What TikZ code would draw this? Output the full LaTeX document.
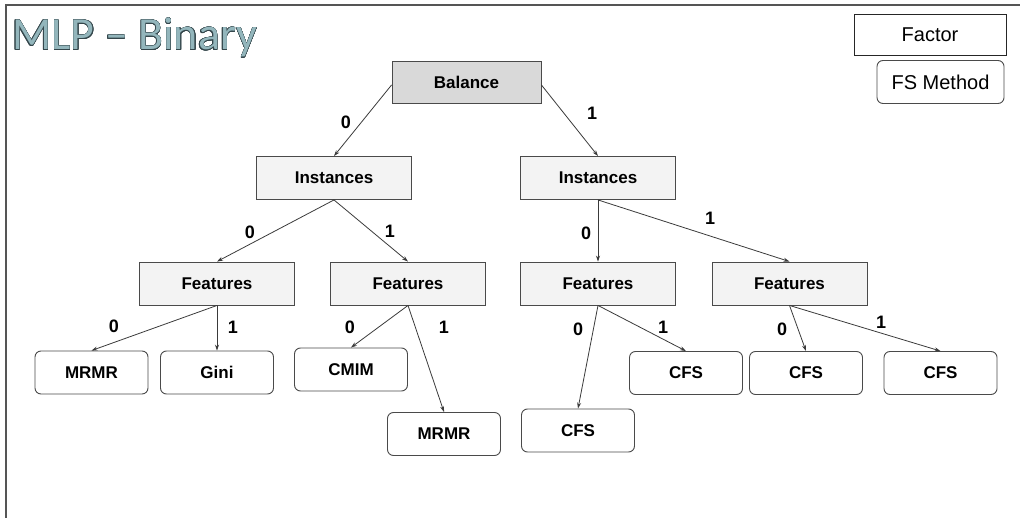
\documentclass[tikz,border=0pt]{standalone}
\usepackage{fontspec}
\setmainfont{Liberation Sans}
\newfontfamily\titlefont{Carlito}
\usepackage{contour}
\contourlength{0.35pt}
\usetikzlibrary{arrows.meta}

\definecolor{edgegray}{HTML}{3A3A3A}
\definecolor{boxline}{HTML}{4A4A4A}
\definecolor{factorfill}{HTML}{F3F3F3}
\definecolor{rootfill}{HTML}{D9D9D9}
\definecolor{titlefill}{HTML}{93B6BC}
\definecolor{titleline}{HTML}{34464B}
\definecolor{framegray}{HTML}{555555}

\tikzset{
  factorbox/.style={draw=boxline, line width=0.9pt, fill=factorfill, inner sep=0pt,
    minimum width=155pt, minimum height=43pt,
    font=\fontsize{17}{20}\selectfont\bfseries},
  rootbox/.style={factorbox, fill=rootfill, minimum width=149pt, minimum height=42pt},
  methodbox/.style={draw=boxline, line width=0.9pt, fill=white, rounded corners=6pt,
    inner sep=0pt, minimum width=113pt, minimum height=43pt,
    font=\fontsize{17}{20}\selectfont\bfseries},
  legendfactor/.style={draw=black!85, line width=0.9pt, fill=white, inner sep=0pt,
    minimum width=152pt, minimum height=41pt, font=\fontsize{20}{24}\selectfont},
  legendmethod/.style={legendfactor, draw=boxline, rounded corners=6pt,
    minimum width=127pt, minimum height=43pt},
  branch/.style={draw=edgegray, line width=0.8pt,
    -{Stealth[length=6pt,width=4pt]}},
  bitlabel/.style={font=\fontsize{18}{20}\selectfont\bfseries, inner sep=0pt},
  frameline/.style={draw=framegray, line width=1.4pt}
}

\begin{document}
\begin{tikzpicture}[x=1pt, y=-1pt]
  \useasboundingbox (0,0) rectangle (1020,518);

  % page frame (top and left edges)
  \coordinate (frameTR) at (1020,5);
  \coordinate (frameTL) at (6,5);
  \coordinate (frameBL) at (6,518);
  \draw[frameline] (frameTR) -- (frameTL) -- (frameBL);

  % title
  \node[anchor=base west, inner sep=0pt, font=\titlefont\fontsize{46}{50}\selectfont] (title)
    at (12,50) {\contour{titleline}{\textcolor{titlefill}{MLP – Binary}}};

  % legend
  \node[legendfactor] (legF) at (930,34.5) {Factor};
  \node[legendmethod] (legM) at (940.5,82) {FS Method};

  % factor nodes
  \node[rootbox]   (bal)  at (466.5,82) {Balance};
  \node[factorbox] (insL) at (334,178) {Instances};
  \node[factorbox] (insR) at (598,178) {Instances};
  \node[factorbox] (fea1) at (217,283.5) {Features};
  \node[factorbox] (fea2) at (408,283.5) {Features};
  \node[factorbox] (fea3) at (598,283.5) {Features};
  \node[factorbox] (fea4) at (789.5,283.5) {Features};

  % feature-selection methods
  \node[methodbox] (m1) at (91.5,372.5) {MRMR};
  \node[methodbox] (m2) at (217,372.5) {Gini};
  \node[methodbox] (m3) at (351,369.5) {CMIM};
  \node[methodbox] (m4) at (444,434) {MRMR};
  \node[methodbox] (m5) at (578,430.5) {CFS};
  \node[methodbox] (m6) at (686,373) {CFS};
  \node[methodbox] (m7) at (806,373) {CFS};
  \node[methodbox] (m8) at (940.5,373) {CFS};

  % branches
  \draw[branch] ([yshift=-3pt]bal.west) -- (insL.north);
  \draw[branch] ([yshift=-3pt]bal.east) -- (insR.north);
  \draw[branch] (insL.south) -- (fea1.north);
  \draw[branch] (insL.south) -- (fea2.north);
  \draw[branch] (insR.south) -- (fea3.north);
  \draw[branch] (insR.south) -- (fea4.north);
  \draw[branch] (fea1.south) -- (m1.north);
  \draw[branch] (fea1.south) -- (m2.north);
  \draw[branch] (fea2.south) -- (m3.north);
  \draw[branch] (fea2.south) -- (m4.north);
  \draw[branch] (fea3.south) -- (m5.north);
  \draw[branch] (fea3.south) -- (m6.north);
  \draw[branch] (fea4.south) -- (m7.north);
  \draw[branch] (fea4.south) -- (m8.north);

  % branch values
  \node[bitlabel] (b0) at (346,122) {0};
  \node[bitlabel] (b1) at (592,113) {1};
  \node[bitlabel] (iL0) at (250,232) {0};
  \node[bitlabel] (iL1) at (390,231) {1};
  \node[bitlabel] (iR0) at (586,233) {0};
  \node[bitlabel] (iR1) at (710,218) {1};
  \node[bitlabel] (f10) at (114,326) {0};
  \node[bitlabel] (f11) at (233,327) {1};
  \node[bitlabel] (f20) at (350,327) {0};
  \node[bitlabel] (f21) at (444,327) {1};
  \node[bitlabel] (f30) at (578,329) {0};
  \node[bitlabel] (f31) at (663,327) {1};
  \node[bitlabel] (f40) at (782,329) {0};
  \node[bitlabel] (f41) at (881,322) {1};
\end{tikzpicture}
\end{document}
